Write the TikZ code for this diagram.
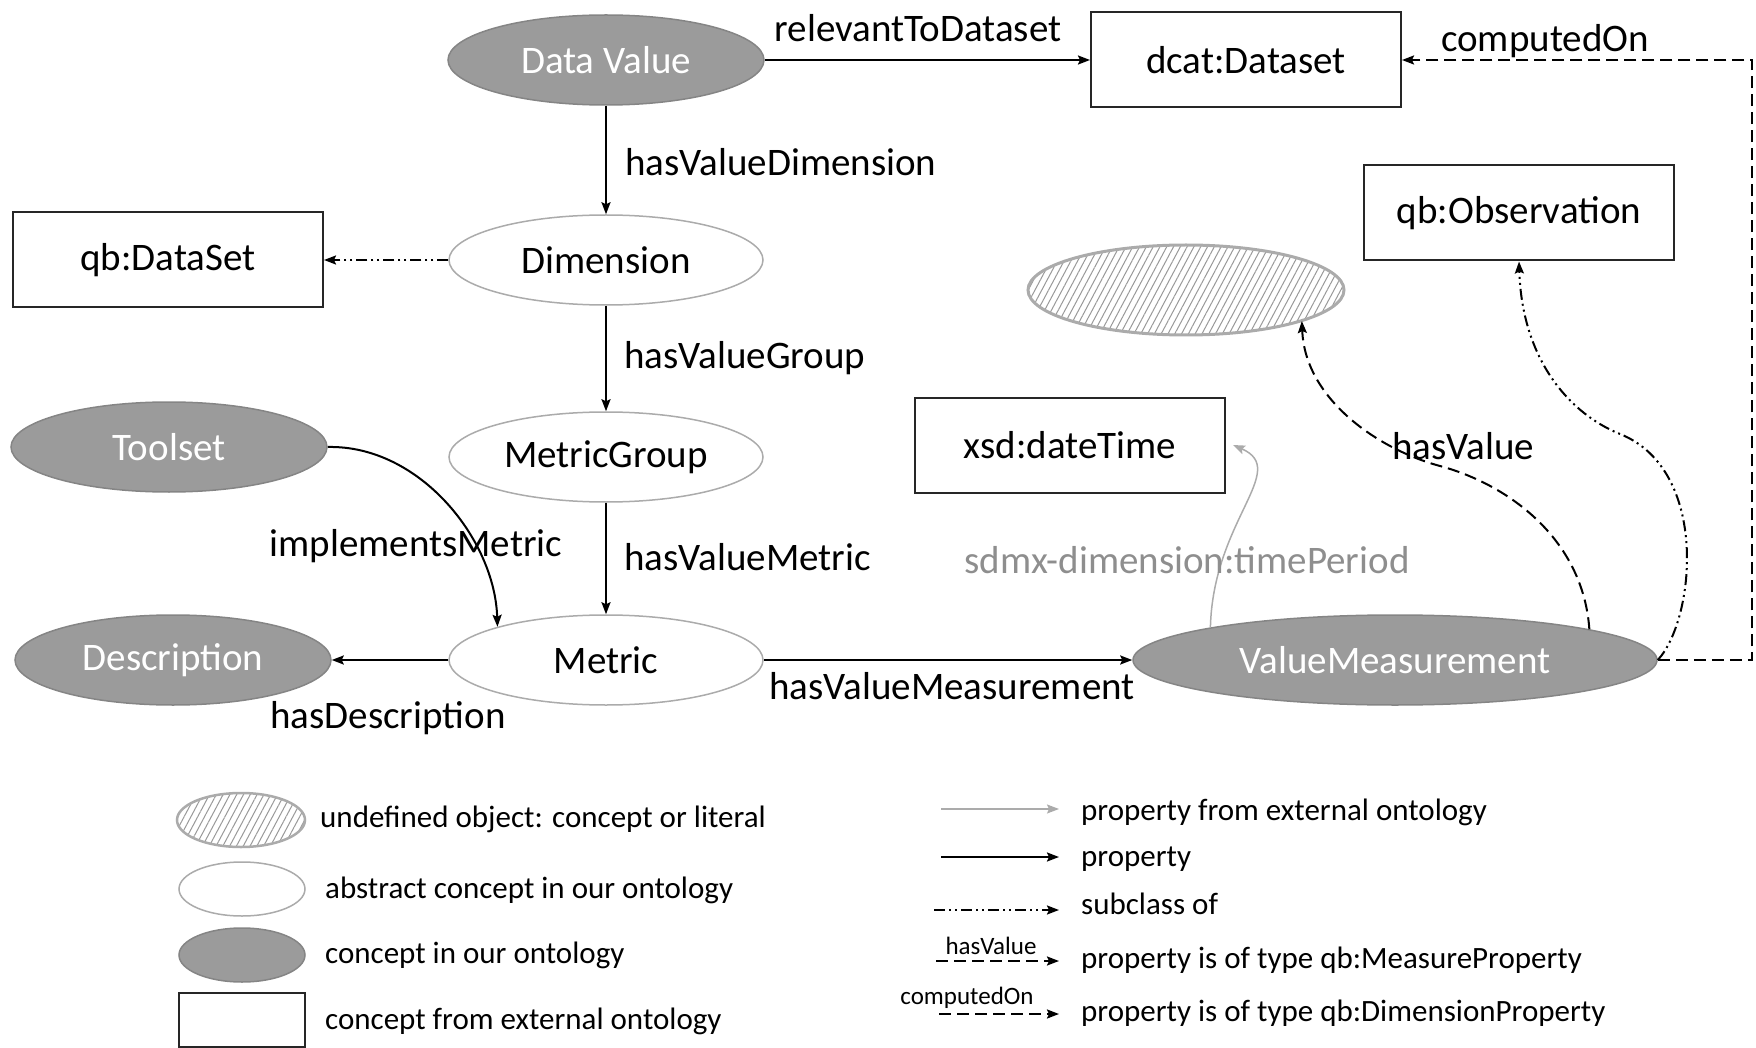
\documentclass[tikz,border=0pt]{standalone}
\usepackage{fontspec}
\setmainfont{Carlito}
\usetikzlibrary{arrows.meta,shapes.geometric,patterns.meta}
\definecolor{cgray}{HTML}{9B9B9B}
\definecolor{cgrayb}{HTML}{858585}
\definecolor{lgray}{HTML}{ABABAB}
\definecolor{tgray}{HTML}{8E8E8E}
\begin{document}
\begin{tikzpicture}[x=1pt,y=-1pt,
  big/.style={font=\fontsize{39}{45}\selectfont},
  small/.style={font=\fontsize{31}{37}\selectfont},
  tiny/.style={font=\fontsize{25}{30}\selectfont},
  own/.style={ellipse, draw=cgrayb, fill=cgray, text=white, line width=1.5pt, minimum width=316pt, minimum height=90pt, inner sep=0pt, big},
  abs/.style={ellipse, draw=lgray, fill=white, line width=1.5pt, minimum width=314pt, minimum height=90pt, inner sep=0pt, big},
  ext/.style={rectangle, draw=black!85, line width=2pt, minimum width=310pt, minimum height=95pt, inner sep=0pt, big},
  undef/.style={ellipse, draw=lgray, line width=3pt, preaction={fill=white}, pattern={Lines[angle=62,distance=6pt,line width=1pt]}, pattern color=gray!80, minimum width=316pt, minimum height=90pt, inner sep=0pt},
  lbl/.style={big, inner sep=0pt, text height=27pt, text depth=9pt},
  ltxt/.style={small, anchor=west, inner sep=0pt, text height=22pt, text depth=7pt},
  tip/.style={-{Stealth[length=12pt,width=9pt,inset=2pt]}},
  prop/.style={line width=2pt, tip},
  xprop/.style={line width=1.5pt, draw=lgray, tip},
  subc/.style={line width=2pt, dash pattern=on 11pt off 4pt on 2pt off 4pt on 2pt off 4pt, tip},
  meas/.style={line width=2pt, dash pattern=on 12pt off 6pt, tip}
]
\useasboundingbox (0,0) rectangle (1756,1048);

% nodes
\node[own] (dv) at (606,60) {Data Value};
\node[ext] (dcat) at (1246,60) {dcat:Dataset};
\node[abs] (dim) at (606,260) {Dimension};
\node[ext] (qbds) at (168,260) {qb:DataSet};
\node[ext] (obs) at (1519,213) {qb:Observation};
\node[undef] (hatch) at (1186,290) {};
\node[abs] (mg) at (606,457) {MetricGroup};
\node[own] (tool) at (169,447) {Toolset};
\node[ext] (xsd) at (1070,445) {xsd:dateTime};
\node[abs] (met) at (606,660) {Metric};
\node[own] (desc) at (173,660) {Description};
\node[own, minimum width=524pt] (vm) at (1395,660) {ValueMeasurement};

% connectors
\draw[prop] (dv) -- (dcat);
\draw[prop] (dv) -- (dim);
\draw[subc] (dim) -- (qbds);
\draw[prop] (dim) -- (mg);
\draw[prop] (mg) -- (met);
\draw[prop] (met) -- (desc);
\draw[prop] (met) -- (vm);
\draw[prop] (tool.east) .. controls (420,445) and (495,540) .. (met.163);
\draw[xprop] (vm.170) .. controls (1213,520) and (1290,470) .. ([xshift=7pt]xsd.east);
\draw[meas] (vm.9.5) .. controls (1583,540) and (1510,485) .. (1440,466) .. controls (1380,450) and (1305,400) .. (hatch.-15);
\draw[subc] (vm.east) .. controls (1695,620) and (1710,470) .. (1620,434) .. controls (1570,414) and (1522,360) .. (obs.south);
\coordinate (cr) at (1752,660);
\draw[meas] (vm.east) -- (cr) |- (dcat.east);

% edge labels
\node[lbl] (l1) at (918,33) {relevantToDataset};
\node[lbl, anchor=west] (l2) at (625,167) {hasValueDimension};
\node[lbl, anchor=west] (l3) at (624,360) {hasValueGroup};
\node[lbl, anchor=west] (l4) at (624,561) {hasValueMetric};
\node[lbl] (l5) at (416,547) {implementsMetric};
\node[lbl] (l6) at (388,719) {hasDescription};
\node[lbl] (l7) at (952,690) {hasValueMeasurement};
\node[lbl, text=tgray] (l8) at (1187,564) {sdmx-dimension:timePeriod};
\node[lbl] (l9) at (1463,450) {hasValue};
\node[lbl] (l10) at (1545,43) {computedOn};

% legend left
\node[undef, minimum width=128pt, minimum height=54pt, line width=2.5pt] (lg1) at (241,820) {};
\node[abs, minimum width=126pt, minimum height=54pt] (lg2) at (242,889) {};
\node[own, minimum width=126pt, minimum height=54pt] (lg3) at (242,955) {};
\node[ext, minimum width=126pt, minimum height=54pt] (lg4) at (242,1020) {};
\node[ltxt] (t1) at (320,820) {undefined object: concept or literal};
\node[ltxt] (t2) at (325,891) {abstract concept in our ontology};
\node[ltxt] (t3) at (325,956) {concept in our ontology};
\node[ltxt] (t4) at (325,1022) {concept from external ontology};

% legend right
\coordinate (a1s) at (941,809); \coordinate (a1e) at (1059,809);
\coordinate (a2s) at (941,857); \coordinate (a2e) at (1059,857);
\coordinate (a3s) at (934,910); \coordinate (a3e) at (1059,910);
\coordinate (a4s) at (936,961); \coordinate (a4e) at (1059,961);
\coordinate (a5s) at (939,1014); \coordinate (a5e) at (1059,1014);
\draw[xprop] (a1s) -- (a1e);
\draw[prop] (a2s) -- (a2e);
\draw[subc] (a3s) -- (a3e);
\draw[meas] (a4s) -- (a4e);
\draw[meas] (a5s) -- (a5e);
\node[tiny, inner sep=0pt] (s1) at (991,946) {hasValue};
\node[tiny, inner sep=0pt] (s2) at (967,998) {computedOn};
\node[ltxt] (r1) at (1081,813) {property from external ontology};
\node[ltxt] (r2) at (1081,859) {property};
\node[ltxt] (r3) at (1081,907) {subclass of};
\node[ltxt] (r4) at (1081,961) {property is of type qb:MeasureProperty};
\node[ltxt] (r5) at (1081,1014) {property is of type qb:DimensionProperty};
\end{tikzpicture}
\end{document}
